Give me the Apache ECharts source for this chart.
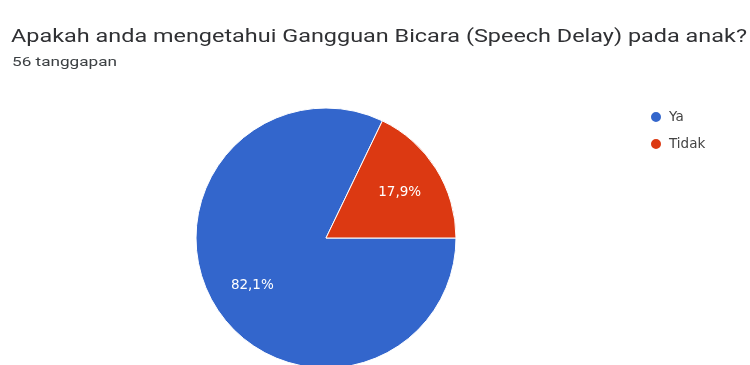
<!DOCTYPE html>
<html>
<head>
<meta charset="utf-8">
<script src="https://cdn.jsdelivr.net/npm/echarts@6/dist/echarts.min.js"></script>
<style>html,body{margin:0;padding:0;background:#fff;}#c{width:750px;height:365px;}</style>
</head>
<body>
<div id="c"></div>
<script>
const titleText = 'Apakah anda mengetahui Gangguan Bicara (Speech Delay) pada anak?';
const subtitleText = '56 tanggapan';
const categories = ['Ya', 'Tidak'];
const counts = [46, 10];
const colors = ['#3366cc', '#dc3912'];

const data = categories.map((n, i) => ({ name: n, value: counts[i] }));
const fmt = p => p.percent.toFixed(1).replace('.', ',') + '%';

const chart = echarts.init(document.getElementById('c'), null, { renderer: 'canvas' });
chart.setOption({
  animation: false,
  color: colors,
  graphic: [
    { type: 'text', x: 11, y: 28, scaleX: 1.26, style: { text: titleText, font: '400 18.6px Roboto', fill: '#303134', textVerticalAlign: 'alphabetic' } },
    { type: 'text', x: 12, y: 56, scaleX: 1.32, style: { text: subtitleText, font: '400 13px Roboto', fill: '#3c4043', textVerticalAlign: 'alphabetic' } }
  ],
  legend: {
    orient: 'vertical', left: 644, top: 105,
    icon: 'circle', itemWidth: 16, itemHeight: 12, itemGap: 13,
    textStyle: { fontFamily: 'DejaVu Sans', fontSize: 13.5, color: '#444' },
    data: categories
  },
  series: [
    {
      type: 'pie', center: [326, 238], radius: [0, 130],
      startAngle: 0, clockwise: true, silent: true,
      itemStyle: { borderColor: '#fff', borderWidth: 1 },
      label: { show: false }, labelLine: { show: false },
      data: data
    },
    {
      type: 'pie', center: [326, 239], radius: [0, 168],
      startAngle: 0, clockwise: true, silent: true,
      legendHoverLink: false,
      itemStyle: { color: 'transparent' },
      label: { show: true, position: 'inside', formatter: fmt, color: '#fff', fontFamily: 'DejaVu Sans', fontSize: 13.5 },
      labelLine: { show: false },
      data: data.map(d => ({ name: d.name + ' ', value: d.value }))
    }
  ]
});
</script>
</body>
</html>
